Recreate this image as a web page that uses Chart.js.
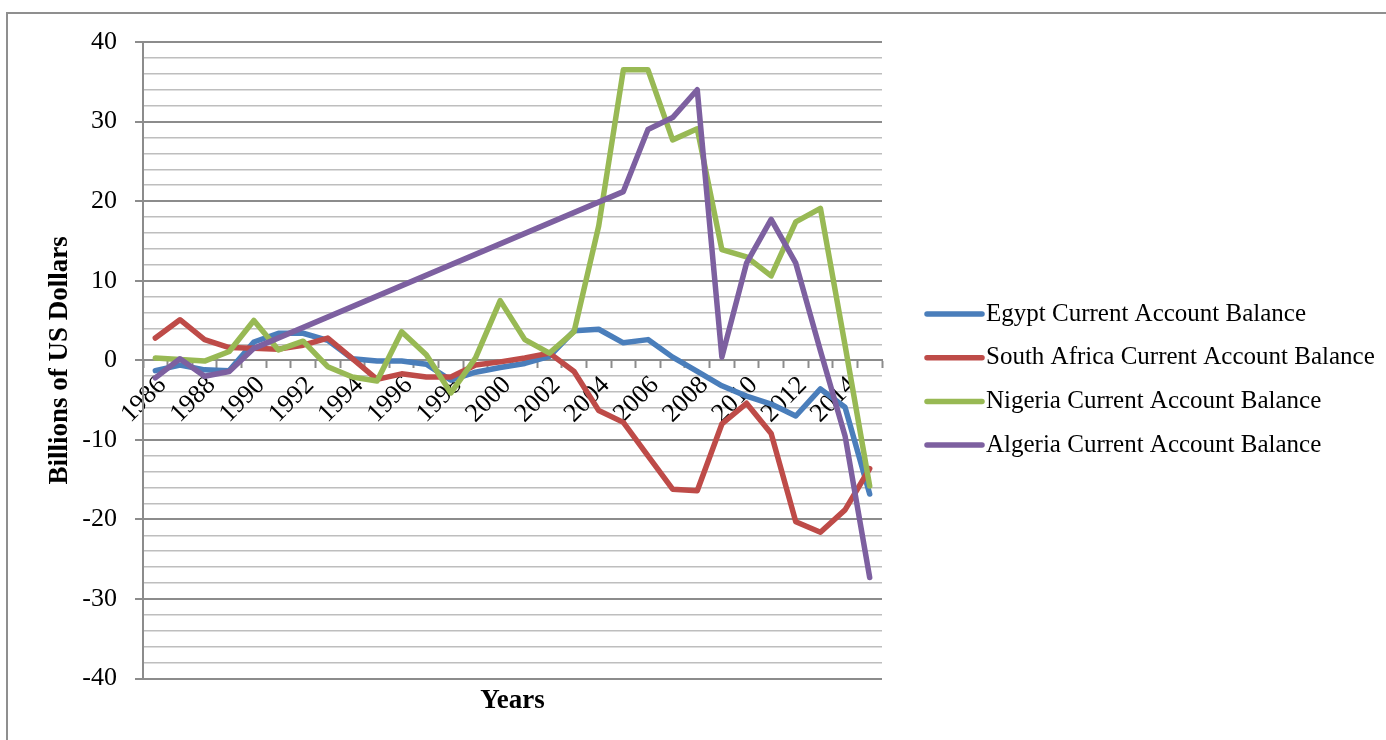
<!DOCTYPE html>
<html>
<head>
<meta charset="utf-8">
<title>Current Account Balance</title>
<script src="https://cdn.jsdelivr.net/npm/chart.js@4.4.1/dist/chart.umd.min.js"></script>
<style>
  html, body { margin: 0; padding: 0; background: #ffffff; }
  #wrap { position: relative; width: 1386px; height: 740px; overflow: hidden; }
  #frame { position: absolute; left: 6px; top: 12px; width: 3000px; height: 3000px;
           border-left: 2px solid #8f8f8f; border-top: 2px solid #8f8f8f; }
  #chart { position: absolute; left: 0; top: 0; }
</style>
</head>
<body>
<div id="wrap">
  <div id="frame"></div>
  <canvas id="chart" width="1386" height="740"></canvas>
</div>
<script>
// Years on the category axis
const years = ['1986','1987','1988','1989','1990','1991','1992','1993','1994','1995',
               '1996','1997','1998','1999','2000','2001','2002','2003','2004','2005',
               '2006','2007','2008','2009','2010','2011','2012','2013','2014','2015'];

// Current account balances, billions of US dollars
const egypt = [-1.3, -0.6, -1.2, -1.3, 2.3, 3.4, 3.4, 2.5, 0.2, -0.1,
               -0.1, -0.5, -2.5, -1.5, -0.9, -0.4, 0.5, 3.7, 3.9, 2.2,
               2.6, 0.4, -1.4, -3.2, -4.5, -5.5, -7.0, -3.6, -5.9, -16.8];
const southAfrica = [2.8, 5.1, 2.6, 1.6, 1.5, 1.4, 1.9, 2.8, 0.2, -2.4,
                     -1.7, -2.1, -2.1, -0.6, -0.2, 0.3, 0.9, -1.4, -6.3, -7.8,
                     -12.0, -16.2, -16.4, -8.0, -5.4, -9.2, -20.3, -21.6, -18.8, -13.6];
const nigeria = [0.3, 0.1, -0.1, 1.1, 5.0, 1.3, 2.4, -0.8, -2.1, -2.6,
                 3.6, 0.7, -4.1, 0.3, 7.5, 2.6, 0.9, 3.6, 16.9, 36.5,
                 36.5, 27.7, 29.1, 13.9, 13.0, 10.6, 17.4, 19.1, 1.9, -15.8];
// No figures for Algeria between 1991 and 2004
const algeria = [-2.2, 0.2, -2.0, -1.4, 1.5, null, null, null, null, null,
                 null, null, null, null, null, null, null, null, null, 21.2,
                 29.0, 30.5, 34.0, 0.4, 12.2, 17.7, 12.2, 1.2, -9.5, -27.3];

const seriesNames = ['Egypt Current Account Balance', 'South Africa Current Account Balance',
                     'Nigeria Current Account Balance', 'Algeria Current Account Balance'];
const seriesColors = ['#4a7ebb', '#be4b48', '#98b954', '#7d60a0'];

// Y axis range and tick spacing
const yMin = -40, yMax = 40, yStep = 2, yLabelEvery = 10;

const SERIF = "'Liberation Serif', 'Times New Roman', serif";
const MAJOR = '#8c8c8c';
const MINOR = '#bebebe';

function lineSet(label, data, color, order) {
  return {
    label, data,
    borderColor: color, backgroundColor: color,
    borderWidth: 5.5, pointRadius: 0, pointHoverRadius: 0,
    tension: 0, spanGaps: true, fill: false,
    borderJoinStyle: 'round', borderCapStyle: 'round',
    order
  };
}

// Legend drawn to the right of the plot, one line sample per series
const sideLegend = {
  id: 'sideLegend',
  afterDraw(chart) {
    const ctx = chart.ctx;
    const x0 = chart.chartArea.right + 45;
    const sampleW = 55;
    const top = 314, gap = 43.7;
    ctx.save();
    chart.data.datasets.forEach((ds, i) => {
      const y = top + i * gap;
      ctx.strokeStyle = ds.borderColor;
      ctx.lineWidth = 5.5;
      ctx.lineCap = 'round';
      ctx.beginPath();
      ctx.moveTo(x0, y);
      ctx.lineTo(x0 + sampleW, y);
      ctx.stroke();
      ctx.fillStyle = '#000';
      ctx.font = '25px ' + SERIF;
      ctx.textAlign = 'left';
      ctx.textBaseline = 'middle';
      ctx.fillText(ds.label, x0 + sampleW + 4, y);
    });
    ctx.restore();
  }
};

new Chart(document.getElementById('chart'), {
  type: 'line',
  data: {
    labels: years,
    datasets: [
      lineSet(seriesNames[0], egypt, seriesColors[0], 3),
      lineSet(seriesNames[1], southAfrica, seriesColors[1], 2),
      lineSet(seriesNames[2], nigeria, seriesColors[2], 1),
      lineSet(seriesNames[3], algeria, seriesColors[3], 0)
    ]
  },
  options: {
    responsive: false,
    animation: false,
    devicePixelRatio: 1,
    layout: { padding: { left: 40, top: 42, right: 504, bottom: 23 } },
    font: { family: SERIF },
    color: '#000',
    plugins: {
      legend: { display: false },
      tooltip: { enabled: false },
      title: {
        display: true, position: 'bottom', fullSize: false,
        text: 'Years', color: '#000',
        font: { family: SERIF, size: 27, weight: 'bold' },
        padding: { top: 6, bottom: 0 }
      }
    },
    scales: {
      x: {
        type: 'category',
        position: { y: 0 },
        offset: true,
        grid: {
          offset: true, drawOnChartArea: false, drawTicks: true,
          tickLength: 7, tickColor: MAJOR, tickWidth: 2
        },
        border: { display: true, color: MAJOR, width: 2 },
        ticks: {
          autoSkip: false, minRotation: 45, maxRotation: 45, padding: 3, labelOffset: 7,
          color: '#000', font: { family: SERIF, size: 26 },
          callback: function (value, index) { return index % 2 === 0 ? this.getLabelForValue(value) : ''; }
        }
      },
      y: {
        min: yMin, max: yMax,
        afterFit(scale) { scale.width = 103; },
        grid: {
          color: c => (c.tick && c.tick.value % yLabelEvery === 0) ? MAJOR : MINOR,
          lineWidth: c => (c.tick && c.tick.value % yLabelEvery === 0) ? 2 : 1.6,
          tickColor: c => (c.tick && c.tick.value % yLabelEvery === 0) ? MAJOR : 'rgba(0,0,0,0)',
          tickLength: 8, tickWidth: 2
        },
        border: { display: true, color: MAJOR, width: 2 },
        ticks: {
          stepSize: yStep, autoSkip: false, maxTicksLimit: 100, padding: 18, color: '#000',
          font: { family: SERIF, size: 26 },
          callback: v => (v % yLabelEvery === 0 ? String(v) : '')
        },
        title: {
          display: true, text: 'Billions of US Dollars', color: '#000',
          font: { family: SERIF, size: 27, weight: 'bold' },
          padding: { top: 4, bottom: 4 }
        }
      }
    }
  },
  plugins: [sideLegend]
});
</script>
</body>
</html>
